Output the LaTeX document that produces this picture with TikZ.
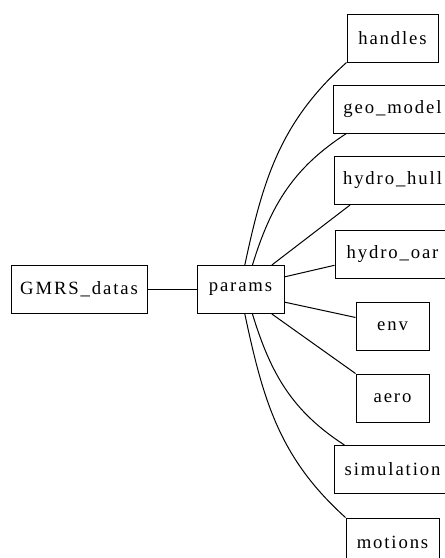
\documentclass[tikz,border=0pt]{standalone}
\usepackage{fontspec}
\setmainfont{Liberation Serif}[LetterSpace=10]
\usetikzlibrary{positioning}

\begin{document}
\begin{tikzpicture}[
        x=1pt, y=1pt,
        font=\fontsize{18.7}{22}\selectfont,
        % Styles
        box/.style={rectangle, draw=black, line width=1pt, minimum height=48pt, inner sep=0pt},
        link/.style={line width=1pt}
    ]
    \useasboundingbox (0,0) rectangle (445,-558);
    \clip (0,0) rectangle (445,-558);

    % ================= LEFT =================
    \node[box, minimum width=136pt] (gmrs) at (79,-289.5) {GMRS\_datas};
    \node[box, minimum width=87pt] (params) at (240.5,-289.5) {params};

    % ================= RIGHT COLUMN =================
    \node[box, minimum width=91pt] (handles) at (392.5,-38) {handles};
    \node[box, minimum width=119pt] (geo) at (392.5,-109) {geo\_model};
    \node[box, minimum width=117pt] (hull) at (392.5,-180.5) {hydro\_hull};
    \node[box, minimum width=115pt] (oar) at (392.5,-254) {hydro\_oar};
    \node[box, minimum width=73pt] (env) at (392.5,-326) {env};
    \node[box, minimum width=73pt] (aero) at (392.5,-398) {aero};
    \node[box, minimum width=117pt] (sim) at (392.5,-469.5) {simulation};
    \node[box, minimum width=93pt] (motions) at (392.5,-542) {motions};

    % Connections
    \draw[link] (gmrs) -- (params);
    \draw[link] (params.80) to[out=78, in=222] (handles.south west);
    \draw[link] (params.64) to[out=73, in=213] (geo.208);
    \draw[link] (params.38) -- (hull.210);
    \draw[link] (params.16) -- (oar.191);
    \draw[link] (params.-16) -- (env.167);
    \draw[link] (params.-38) -- (aero.north west);
    \draw[link] (params.-64) to[out=-73, in=147] (sim.153);
    \draw[link] (params.-80) to[out=-78, in=138] (motions.north west);

\end{tikzpicture}
\end{document}
